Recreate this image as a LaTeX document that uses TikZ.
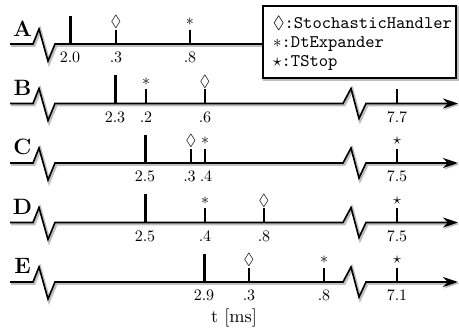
\documentclass[tikz,border=0pt]{standalone}
\usepackage{amssymb}
\usetikzlibrary{arrows.meta}
\newcommand\mytick[5]{% name, x, y, symbol, label
  \draw[smalltick] (#2,#3) -- (#2,#3-14);
  \node[sym] (#1s) at (#2,#3-22) {#4};
  \node[lab] (#1l) at (#2,#3+19) {#5};
}
\newcommand\mybig[4]{% name, x, y, label
  \draw[bigtick] (#2,#3) -- (#2,#3-28);
  \node[lab] (#1l) at (#2,#3+19) {#4};
}
\begin{document}
\begin{tikzpicture}[x=1pt,y=-1pt,
  shad/.style={preaction={draw=black!25, line width=3pt, transform canvas={shift={(1.2pt,-1.5pt)}}}},
  axis/.style={line width=1.6pt, miter limit=20, shad},
  bigtick/.style={line width=3pt},
  smalltick/.style={line width=1.1pt},
  sym/.style={inner sep=0pt, scale=1.6, font=\normalsize},
  lab/.style={inner sep=0pt, anchor=base, scale=1.6, font=\normalsize},
  rowlab/.style={inner sep=0pt, anchor=base, scale=1.85, font=\large\bfseries},
  leg/.style={inner sep=0pt, anchor=base west, scale=1.77, font=\normalsize},
  arr/.style={-{Stealth[length=15pt,width=10pt,inset=5pt]}}
]
\useasboundingbox (0,0) rectangle (459,329);
% ---- row A
\draw[axis] (10,44) -- (33,44) -- (39,29) -- (48,61) -- (55,44) -- (263,44);
\node[rowlab] (rA) at (22.5,37) {A};
\mybig{a0}{70}{44}{2.0}
\mytick{a1}{116}{44}{$\Diamond$}{.3}
\mytick{a2}{190}{44}{$\ast$}{.8}
% ---- row B
\draw[axis,arr] (10,103.5) -- (33,103.5) -- (39,88.5) -- (48,120.5) -- (55,103.5) -- (343,103.5) -- (351,88.5) -- (359,118.5) -- (366,103.5) -- (458,103.5);
\node[rowlab] (rB) at (22.5,95.5) {B};
\mybig{b0}{115}{103.5}{2.3}
\mytick{b1}{146}{103.5}{$\ast$}{.2}
\mytick{b2}{205}{103.5}{$\Diamond$}{.6}
\draw[smalltick] (397,103.5) -- (397,89.5);
\node[lab] (b3l) at (397,122.5) {7.7};
% ---- row C
\draw[axis,arr] (10,163) -- (33,163) -- (39,148) -- (48,180) -- (55,163) -- (343,163) -- (351,148) -- (359,178) -- (366,163) -- (458,163);
\node[rowlab] (rC) at (22.5,155) {C};
\mybig{c0}{145}{163}{2.5}
\draw[smalltick] (191,163) -- (191,149);
\node[sym] (c1s) at (191,141) {$\Diamond$};
\node[lab] (c1l) at (189.5,182) {.3};
\draw[smalltick] (205,163) -- (205,149);
\node[sym] (c2s) at (205,141) {$\ast$};
\node[lab] (c2l) at (206,182) {.4};
\mytick{c3}{397}{163}{$\star$}{7.5}
% ---- row D
\draw[axis,arr] (10,222.5) -- (33,222.5) -- (39,207.5) -- (48,239.5) -- (55,222.5) -- (343,222.5) -- (351,207.5) -- (359,237.5) -- (366,222.5) -- (458,222.5);
\node[rowlab] (rD) at (22.5,214.5) {D};
\mybig{d0}{145}{222.5}{2.5}
\mytick{d1}{205}{222.5}{$\ast$}{.4}
\mytick{d2}{264}{222.5}{$\Diamond$}{.8}
\mytick{d3}{397}{222.5}{$\star$}{7.5}
% ---- row E
\draw[axis,arr] (10,282) -- (33,282) -- (39,267) -- (48,299) -- (55,282) -- (343,282) -- (351,267) -- (359,297) -- (366,282) -- (458,282);
\node[rowlab] (rE) at (22.5,273) {E};
\mybig{e0}{204}{282}{2.9}
\mytick{e1}{249}{282}{$\Diamond$}{.3}
\mytick{e2}{324}{282}{$\ast$}{.8}
\mytick{e3}{397}{282}{$\star$}{7.1}
% ---- axis title
\node[lab, anchor=center, scale=1.14] (tl) at (234,318) {t [ms]};
% ---- legend
\draw[line width=1.4pt, fill=white, shad] (263,6) rectangle (456,78);
\node[leg] (g1) at (272.5,29) {$\Diamond$\texttt{:StochasticHandler}};
\node[leg] (g2) at (272.5,48) {$\ast$\texttt{:DtExpander}};
\node[leg] (g3) at (272.5,66.5) {$\star$\texttt{:TStop}};
\end{tikzpicture}
\end{document}
